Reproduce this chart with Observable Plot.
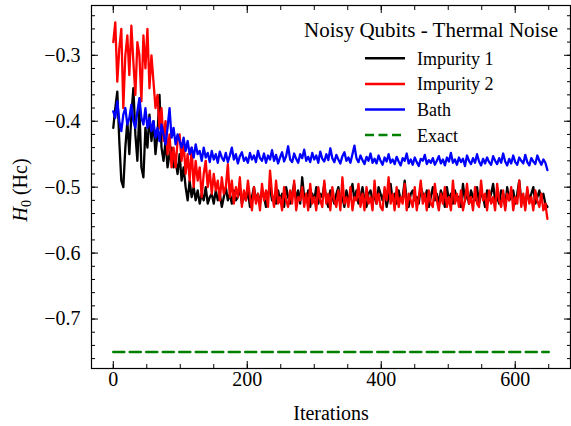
<!DOCTYPE html>
<html><head><meta charset="utf-8">
<script src="https://cdn.jsdelivr.net/npm/d3@7"></script>
<script src="https://cdn.jsdelivr.net/npm/@observablehq/plot@0.6"></script>
<style>body{margin:0;background:#fff}#chart{width:571px;height:426px}</style>
</head><body><div id="chart"></div>
<script>
// iteration spacing between stored samples
const step = 3;
const impurity1 = [
-0.41,-0.38,-0.355,-0.43,-0.49,-0.50,-0.44,-0.40,-0.45,-0.39,
-0.35,-0.42,-0.46,-0.38,-0.47,-0.485,-0.41,-0.44,-0.39,-0.43,
-0.40,-0.45,-0.42,-0.36,-0.44,-0.46,-0.43,-0.47,-0.45,-0.44,
-0.47,-0.46,-0.48,-0.45,-0.49,-0.47,-0.50,-0.52,-0.49,-0.515,
-0.50,-0.52,-0.505,-0.525,-0.51,-0.52,-0.50,-0.525,-0.515,-0.51,
-0.525,-0.505,-0.52,-0.51,-0.53,-0.515,-0.50,-0.52,-0.51,-0.525,
-0.505,-0.52,-0.515,-0.50,-0.525,-0.51,-0.52,-0.505,-0.53,-0.515,
-0.50,-0.52,-0.51,-0.525,-0.505,-0.515,-0.53,-0.51,-0.50,-0.52,
-0.515,-0.525,-0.505,-0.52,-0.51,-0.53,-0.50,-0.515,-0.525,-0.51,
-0.495,-0.52,-0.505,-0.525,-0.485,-0.515,-0.52,-0.505,-0.53,-0.51,
-0.52,-0.50,-0.525,-0.51,-0.515,-0.495,-0.52,-0.53,-0.505,-0.515,
-0.525,-0.51,-0.50,-0.52,-0.515,-0.53,-0.505,-0.52,-0.51,-0.495,
-0.52,-0.505,-0.525,-0.515,-0.50,-0.52,-0.53,-0.51,-0.505,-0.52,
-0.515,-0.525,-0.50,-0.51,-0.52,-0.505,-0.53,-0.515,-0.495,-0.52,
-0.51,-0.525,-0.505,-0.52,-0.515,-0.49,-0.52,-0.53,-0.51,-0.505,
-0.52,-0.515,-0.525,-0.50,-0.51,-0.52,-0.505,-0.53,-0.515,-0.50,
-0.52,-0.51,-0.525,-0.505,-0.515,-0.53,-0.50,-0.52,-0.51,-0.525,
-0.505,-0.52,-0.515,-0.53,-0.495,-0.52,-0.51,-0.525,-0.505,-0.515,
-0.52,-0.50,-0.525,-0.51,-0.515,-0.53,-0.505,-0.52,-0.51,-0.495,
-0.52,-0.515,-0.525,-0.505,-0.51,-0.53,-0.50,-0.52,-0.515,-0.505,
-0.525,-0.51,-0.49,-0.52,-0.515,-0.53,-0.505,-0.52,-0.51,-0.50,
-0.525,-0.515,-0.505,-0.52,-0.51,-0.525,-0.53
];
const impurity2 = [
-0.28,-0.25,-0.34,-0.29,-0.26,-0.38,-0.30,-0.27,-0.33,-0.255,
-0.31,-0.36,-0.28,-0.30,-0.37,-0.27,-0.32,-0.26,-0.35,-0.30,
-0.34,-0.38,-0.36,-0.41,-0.38,-0.43,-0.40,-0.45,-0.42,-0.47,
-0.44,-0.47,-0.43,-0.42,-0.46,-0.43,-0.48,-0.45,-0.49,-0.44,
-0.50,-0.46,-0.49,-0.47,-0.515,-0.48,-0.46,-0.50,-0.475,-0.51,
-0.48,-0.505,-0.49,-0.52,-0.485,-0.51,-0.50,-0.465,-0.515,-0.49,
-0.525,-0.50,-0.515,-0.485,-0.53,-0.505,-0.52,-0.49,
-0.515,-0.535,-0.50,-0.525,-0.51,-0.535,-0.495,-0.52,-0.505,-0.53,
-0.475,-0.51,-0.53,-0.49,-0.525,-0.515,-0.535,-0.50,-0.52,-0.53,
-0.505,-0.525,-0.49,-0.535,-0.515,-0.52,-0.50,-0.53,-0.51,-0.535,
-0.495,-0.525,-0.515,-0.535,-0.50,-0.52,-0.53,-0.49,-0.525,-0.51,
-0.535,-0.50,-0.52,-0.53,-0.505,-0.535,-0.485,-0.525,-0.515,-0.53,
-0.50,-0.535,-0.515,-0.52,-0.495,-0.53,-0.51,-0.535,-0.50,-0.525,
-0.515,-0.535,-0.49,-0.525,-0.51,-0.53,-0.535,-0.50,-0.52,-0.485,
-0.525,-0.51,-0.535,-0.50,-0.53,-0.515,-0.525,-0.495,-0.535,-0.51,
-0.52,-0.53,-0.50,-0.535,-0.515,-0.49,-0.525,-0.51,-0.535,-0.505,
-0.525,-0.53,-0.495,-0.52,-0.535,-0.51,-0.525,-0.50,-0.53,-0.515,
-0.535,-0.49,-0.525,-0.51,-0.53,-0.505,-0.535,-0.52,-0.495,-0.525,
-0.515,-0.535,-0.50,-0.525,-0.53,-0.49,-0.52,-0.51,-0.535,-0.505,
-0.525,-0.515,-0.535,-0.495,-0.52,-0.53,-0.505,-0.535,-0.51,-0.52,
-0.50,-0.535,-0.515,-0.525,-0.49,-0.53,-0.51,-0.535,-0.50,-0.525,
-0.515,-0.535,-0.505,-0.52,-0.53,-0.51,-0.535,-0.525,-0.548
];
const bath = [
-0.385,-0.395,-0.37,-0.40,-0.415,-0.39,-0.38,-0.405,-0.395,-0.375,
-0.40,-0.41,-0.385,-0.365,-0.395,-0.405,-0.38,-0.41,-0.395,-0.415,
-0.40,-0.425,-0.41,-0.43,-0.405,-0.42,-0.435,-0.41,-0.38,-0.425,
-0.41,-0.435,-0.42,-0.43,-0.44,-0.425,-0.445,-0.43,-0.45,-0.44,
-0.455,-0.435,-0.45,-0.445,-0.46,-0.44,-0.455,-0.448,-0.462,-0.445,
-0.458,-0.45,-0.463,-0.446,-0.455,-0.46,-0.448,-0.462,-0.452,-0.44,
-0.458,-0.45,-0.464,-0.453,-0.447,-0.46,-0.455,-0.463,-0.448,-0.458,
-0.452,-0.462,-0.445,-0.456,-0.46,-0.449,-0.463,-0.452,-0.458,-0.444,
-0.46,-0.451,-0.464,-0.455,-0.447,-0.461,-0.453,-0.438,-0.458,-0.462,
-0.449,-0.457,-0.463,-0.45,-0.456,-0.443,-0.46,-0.454,-0.462,-0.448,
-0.458,-0.452,-0.463,-0.446,-0.457,-0.461,-0.45,-0.459,-0.441,-0.456,
-0.462,-0.451,-0.458,-0.464,-0.453,-0.447,-0.46,-0.455,-0.463,-0.45,
-0.437,-0.456,-0.462,-0.452,-0.459,-0.465,-0.454,-0.46,-0.449,-0.463,
-0.457,-0.464,-0.452,-0.46,-0.466,-0.455,-0.461,-0.45,-0.463,-0.458,
-0.465,-0.454,-0.461,-0.467,-0.456,-0.46,-0.449,-0.464,-0.458,-0.466,
-0.455,-0.462,-0.468,-0.457,-0.46,-0.451,-0.465,-0.459,-0.463,-0.456,
-0.466,-0.46,-0.453,-0.464,-0.458,-0.467,-0.455,-0.461,-0.448,-0.463,
-0.458,-0.466,-0.455,-0.462,-0.457,-0.468,-0.452,-0.46,-0.465,-0.456,
-0.463,-0.45,-0.461,-0.467,-0.457,-0.464,-0.455,-0.462,-0.466,-0.453,
-0.46,-0.465,-0.456,-0.463,-0.449,-0.461,-0.467,-0.457,-0.464,-0.452,
-0.462,-0.466,-0.455,-0.46,-0.464,-0.451,-0.462,-0.467,-0.456,-0.461,
-0.465,-0.452,-0.46,-0.466,-0.458,-0.463,-0.474
];
const exactEnergy = -0.75;
const exactSpan = [0, 650];
const seriesNames = ["Impurity 1", "Impurity 2", "Bath", "Exact"];
const seriesColors = ["#000000", "#ff0000", "#0000ff", "#008000"];
const xTicks = [0, 200, 400, 600];
const yTicks = [-0.7, -0.6, -0.5, -0.4, -0.3];
const titleText = "Noisy Qubits - Thermal Noise";
const xLabel = "Iterations";

const rows = [];
[impurity1, impurity2, bath].forEach((arr, k) =>
  arr.forEach((v, i) => rows.push({series: seriesNames[k], it: i * step, value: v})));
const exactRows = exactSpan.map(it => ({series: "Exact", it, value: exactEnergy}));

const xMinor = d3.range(0, 651, 50);
const yMinor = d3.range(-0.76, -0.235, 0.02);
const fmt = d3.format(".1f");

const W = 571, H = 426;
const plot = Plot.plot({
  width: W, height: H,
  marginTop: 5, marginRight: 1, marginBottom: 58, marginLeft: 91,
  style: {fontFamily: "'Liberation Serif', 'Times New Roman', serif", fontSize: "20px", background: "#fff", color: "#000"},
  x: {domain: [-32.5, 682.5]},
  y: {domain: [-0.775, -0.2245]},
  marks: [
    Plot.line(rows.filter(d => d.series === "Impurity 1"), {x: "it", y: "value", stroke: seriesColors[0], strokeWidth: 2.3}),
    Plot.line(rows.filter(d => d.series === "Impurity 2"), {x: "it", y: "value", stroke: seriesColors[1], strokeWidth: 2.3}),
    Plot.line(rows.filter(d => d.series === "Bath"), {x: "it", y: "value", stroke: seriesColors[2], strokeWidth: 2.3}),
    Plot.line(exactRows, {x: "it", y: "value", stroke: seriesColors[3], strokeWidth: 2.5, strokeDasharray: "11,5.5"}),
    Plot.frame({stroke: "#000", strokeWidth: 1.2}),
    Plot.axisX(xTicks, {anchor: "bottom", tickSize: -7, fill: "none", label: null}),
    Plot.axisX(xTicks, {anchor: "top", tickSize: -7, fill: "none", label: null}),
    Plot.axisX(xMinor, {anchor: "bottom", tickSize: -4, fill: "none", label: null}),
    Plot.axisX(xMinor, {anchor: "top", tickSize: -4, fill: "none", label: null}),
    Plot.axisX(xTicks, {anchor: "bottom", tickSize: 0, tickPadding: 3, tickFormat: d => String(d), label: null}),
    Plot.axisY(yTicks, {anchor: "left", tickSize: -7, fill: "none", label: null}),
    Plot.axisY(yTicks, {anchor: "right", tickSize: -7, fill: "none", label: null}),
    Plot.axisY(yMinor, {anchor: "left", tickSize: -4, fill: "none", label: null}),
    Plot.axisY(yMinor, {anchor: "right", tickSize: -4, fill: "none", label: null}),
    Plot.axisY(yTicks, {anchor: "left", tickSize: 0, tickPadding: 11, tickFormat: fmt, label: null})
  ]
});
document.getElementById("chart").appendChild(plot);

const svg = d3.select(plot);
// axis labels
svg.append("text").attr("x", 331).attr("y", 420).attr("text-anchor", "middle")
  .style("font-size", "20px").text(xLabel);
const yl = svg.append("text").attr("transform", "translate(27,190) rotate(-90)")
  .attr("text-anchor", "middle").style("font-size", "20px");
yl.append("tspan").attr("font-style", "italic").text("H");
yl.append("tspan").style("font-size", "14px").attr("dy", 4).text("0");
yl.append("tspan").attr("dy", -4).text(" (Hc)");

// legend
const lg = svg.append("g");
lg.append("text").attr("x", 431).attr("y", 36.5).attr("text-anchor", "middle")
  .style("font-size", "21px").text(titleText);
seriesNames.forEach((name, i) => {
  const yy = 58.3 + i * 25.6;
  lg.append("line").attr("x1", 365).attr("x2", 405).attr("y1", yy).attr("y2", yy)
    .attr("stroke", seriesColors[i]).attr("stroke-width", 2.5)
    .attr("stroke-dasharray", i === 3 ? "9,4.5" : null);
  lg.append("text").attr("x", 417).attr("y", yy + 6.5).attr("text-anchor", "start")
    .style("font-size", "18px").text(name);
});
</script>
</body></html>
